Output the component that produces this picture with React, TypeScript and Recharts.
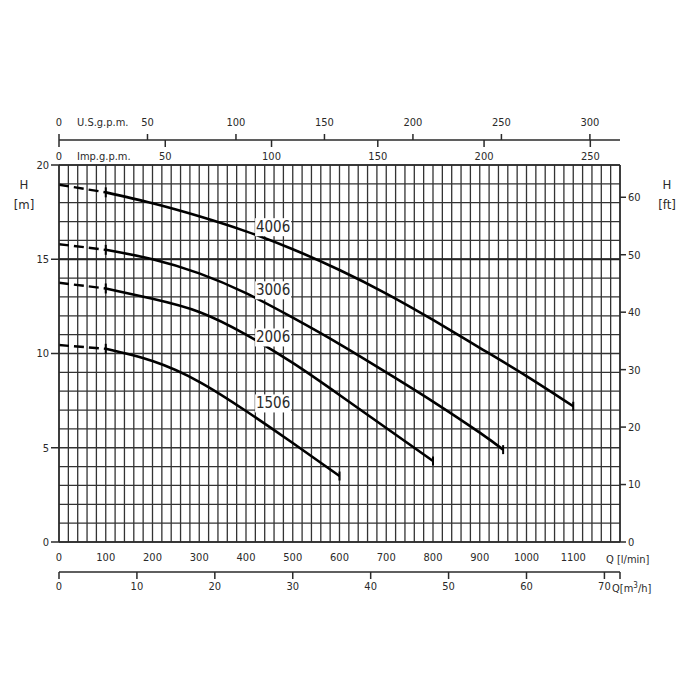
import React from 'react';
import {
  LineChart,
  Line,
  XAxis,
  YAxis,
  CartesianGrid,
  ReferenceLine,
  ReferenceDot,
} from 'recharts';

const FONT = '"DejaVu Sans Condensed", "Liberation Sans Narrow", "DejaVu Sans", sans-serif';
const INK = '#2a2a2a';

// axis ticks
const flowTicks = [0, 100, 200, 300, 400, 500, 600, 700, 800, 900, 1000, 1100];
const m3hTicks = [0, 10, 20, 30, 40, 50, 60, 70, 72];
const usGpmTicks = [0, 50, 100, 150, 200, 250, 300];
const impGpmTicks = [0, 50, 100, 150, 200, 250];
const headTicks = [0, 5, 10, 15, 20];
const feetTicks = [0, 10, 20, 30, 40, 50, 60];
const gridFlow = Array.from({ length: 61 }, (_, i) => i * 20);
const gridHead = Array.from({ length: 21 }, (_, i) => i);

// pump curves: Q in l/min, H in m
const pumps = ['4006', '3006', '2006', '1506'];
const dashFlow = [0, 100];
const dashHead4006 = [18.95, 18.55];
const dashHead3006 = [15.8, 15.5];
const dashHead2006 = [13.75, 13.45];
const dashHead1506 = [10.45, 10.25];

const flow4006 = [100, 200, 300, 400, 500, 600, 700, 800, 900, 1000, 1100];
const head4006 = [18.55, 17.97, 17.28, 16.48, 15.53, 14.43, 13.18, 11.78, 10.3, 8.8, 7.2];
const flow3006 = [100, 200, 300, 400, 500, 600, 700, 800, 900, 950];
const head3006 = [15.5, 15.0, 14.25, 13.2, 11.9, 10.5, 9.0, 7.45, 5.8, 4.9];
const flow2006 = [100, 200, 300, 400, 500, 600, 700, 800];
const head2006 = [13.45, 12.9, 12.2, 11.0, 9.5, 7.8, 6.05, 4.3];
const flow1506 = [100, 200, 300, 400, 500, 600];
const head1506 = [10.25, 9.6, 8.5, 6.95, 5.25, 3.5];

// where the model numbers sit
const tagFlow = 458;
const tagHead = [16.7, 13.35, 10.85, 7.35];

const LPM_PER_USGPM = 3.78541;
const LPM_PER_IMPGPM = 4.54609;
const LPM_PER_M3H = 1000 / 60;
const FT_PER_M = 3.28084;
const Q_MAX = 1200;
const H_MAX = 20;

const zip = (q: number[], h: number[]) => q.map((v, i) => ({ q: v, h: h[i] }));

const solid = [
  zip(flow4006, head4006),
  zip(flow3006, head3006),
  zip(flow2006, head2006),
  zip(flow1506, head1506),
];
const dashed = [
  zip(dashFlow, dashHead4006),
  zip(dashFlow, dashHead3006),
  zip(dashFlow, dashHead2006),
  zip(dashFlow, dashHead1506),
];

// the secondary flow scales need something bound to them so their ticks get built
const extraAxes = [
  { id: 'b2m3', max: Q_MAX / LPM_PER_M3H },
  { id: 't1imp', max: Q_MAX / LPM_PER_IMPGPM },
  { id: 't2us', max: Q_MAX / LPM_PER_USGPM },
];

function markDot(lastIndex: number) {
  return (p: any) => {
    const { cx, cy, index } = p;
    if (index !== 0 && index !== lastIndex) return <g key={`d${index}`} />;
    const h = index === 0 ? 5 : 4.5;
    return (
      <line
        key={`d${index}`}
        x1={cx}
        x2={cx}
        y1={cy - h}
        y2={cy + h}
        stroke="#000"
        strokeWidth={2}
      />
    );
  };
}

const curveTag = (name: string) => (p: any) => (
  <g>
    <rect x={p.cx - 18} y={p.cy - 9} width={36} height={18} fill="#fff" />
    <text
      x={p.cx}
      y={p.cy}
      textAnchor="middle"
      dominantBaseline="central"
      fontSize={15}
      fill={INK}
      fontFamily={FONT}
    >
      {name}
    </text>
  </g>
);

// imperial gallons: label under the US rule, tick hanging down from it
const ImpTick = (p: any) => (
  <g>
    <line x1={p.x} x2={p.x} y1={p.y - 20} y2={p.y - 13} stroke={INK} strokeWidth={1.5} />
    <text x={p.x} y={p.y} textAnchor="middle" fontSize={11} fill={INK} fontFamily={FONT}>
      {p.payload.value}
    </text>
  </g>
);

const tickStyle = { fill: INK, fontSize: 11, fontFamily: FONT };
const axisStroke = { stroke: INK, strokeWidth: 1.5 };

function scaleOf(axis: any, v: number): number | null {
  const sc = axis && axis.scale;
  if (typeof sc === 'function') return sc(v);
  if (sc && typeof sc.map === 'function') return sc.map(v);
  return null;
}

const verticalGrid = ({ xAxis, offset }: any) =>
  gridFlow.map((v) => scaleOf(xAxis, v) ?? offset.left + (v / Q_MAX) * offset.width);
const horizontalGrid = ({ yAxis, offset }: any) =>
  gridHead.map((v) => scaleOf(yAxis, v) ?? offset.top + (1 - v / H_MAX) * offset.height);

const note = (left: number, top: number, center = false, size = 11): React.CSSProperties => ({
  position: 'absolute',
  left,
  top,
  fontSize: size,
  fontFamily: FONT,
  color: INK,
  lineHeight: 1,
  transform: center ? 'translate(-50%, -50%)' : 'translateY(-50%)',
  whiteSpace: 'nowrap',
});

export default function App() {
  return (
    <div style={{ position: 'absolute', left: 0, top: 0, width: 700, height: 700, background: '#fff' }}>
      <LineChart
        width={700}
        height={700}
        margin={{ top: 100, right: 40, bottom: 98, left: 19 }}
        style={{ fontFamily: FONT }}
      >
        <XAxis
          xAxisId="b1q"
          dataKey="q"
          type="number"
          domain={[0, Q_MAX]}
          allowDataOverflow
          ticks={flowTicks}
          interval={0}
          height={30}
          tickSize={0}
          tickMargin={11}
          tickLine={false}
          axisLine={axisStroke}
          tick={tickStyle}
        />
        <XAxis
          xAxisId="b2m3"
          dataKey="q"
          type="number"
          domain={[0, Q_MAX / LPM_PER_M3H]}
          allowDataOverflow
          ticks={m3hTicks}
          interval={0}
          height={30}
          tickSize={7}
          tickMargin={3}
          tickLine={axisStroke}
          axisLine={axisStroke}
          tick={tickStyle}
          tickFormatter={(v: number) => (v === 72 ? '' : String(v))}
        />
        <XAxis
          xAxisId="t1imp"
          dataKey="q"
          orientation="top"
          type="number"
          domain={[0, Q_MAX / LPM_PER_IMPGPM]}
          allowDataOverflow
          ticks={impGpmTicks}
          interval={0}
          height={25}
          tickSize={0}
          tickMargin={5}
          tickLine={false}
          axisLine={axisStroke}
          tick={ImpTick}
        />
        <XAxis
          xAxisId="t2us"
          dataKey="q"
          orientation="top"
          type="number"
          domain={[0, Q_MAX / LPM_PER_USGPM]}
          allowDataOverflow
          ticks={usGpmTicks}
          interval={0}
          height={40}
          tickSize={6}
          tickMargin={8}
          tickLine={axisStroke}
          axisLine={axisStroke}
          tick={tickStyle}
        />
        <YAxis
          yAxisId="m"
          type="number"
          domain={[0, H_MAX]}
          allowDataOverflow
          ticks={headTicks}
          interval={0}
          width={40}
          tickSize={8}
          tickMargin={2}
          tickLine={axisStroke}
          axisLine={axisStroke}
          tick={tickStyle}
        />
        <YAxis
          yAxisId="ft"
          orientation="right"
          type="number"
          domain={[0, H_MAX * FT_PER_M]}
          allowDataOverflow
          ticks={feetTicks}
          interval={0}
          width={40}
          tickSize={6}
          tickMargin={2}
          tickLine={axisStroke}
          axisLine={axisStroke}
          tick={tickStyle}
        />
        <CartesianGrid
          xAxisId="b1q"
          yAxisId="m"
          stroke="#333"
          strokeWidth={1.3}
          verticalCoordinatesGenerator={verticalGrid}
          horizontalCoordinatesGenerator={horizontalGrid}
        />
        <ReferenceLine xAxisId="b1q" yAxisId="m" y={15} stroke="#222" strokeWidth={2.2} />

        {extraAxes.map((a) => (
          <Line
            key={`carrier${a.id}`}
            xAxisId={a.id}
            yAxisId="m"
            data={[{ q: 0, h: 0 }, { q: a.max, h: 0 }]}
            dataKey="h"
            stroke="none"
            dot={false}
            activeDot={false}
            legendType="none"
            isAnimationActive={false}
          />
        ))}

        {dashed.map((d, i) => (
          <Line
            key={`dash${pumps[i]}`}
            xAxisId="b1q"
            yAxisId="m"
            data={d}
            dataKey="h"
            type="linear"
            stroke="#000"
            strokeWidth={2.4}
            strokeDasharray="10 5"
            dot={false}
            activeDot={false}
            isAnimationActive={false}
          />
        ))}
        {solid.map((d, i) => (
          <Line
            key={pumps[i]}
            xAxisId="b1q"
            yAxisId="m"
            data={d}
            dataKey="h"
            type="natural"
            stroke="#000"
            strokeWidth={2.6}
            dot={markDot(d.length - 1)}
            activeDot={false}
            isAnimationActive={false}
          />
        ))}
        {pumps.map((name, i) => (
          <ReferenceDot
            key={`tag${name}`}
            xAxisId="b1q"
            yAxisId="m"
            x={tagFlow}
            y={tagHead[i]}
            r={0}
            shape={curveTag(name)}
          />
        ))}
      </LineChart>

      <div style={note(77, 122)}>U.S.g.p.m.</div>
      <div style={note(77, 156)}>Imp.g.p.m.</div>
      <div style={note(24, 184, true, 13)}>H</div>
      <div style={note(24, 204, true, 13)}>[m]</div>
      <div style={note(667, 184, true, 13)}>H</div>
      <div style={note(667, 204, true, 13)}>[ft]</div>
      <div style={note(606, 559)}>Q [l/min]</div>
      <div style={note(612, 588)}>
        Q[m<sup style={{ fontSize: 8 }}>3</sup>/h]
      </div>
    </div>
  );
}
